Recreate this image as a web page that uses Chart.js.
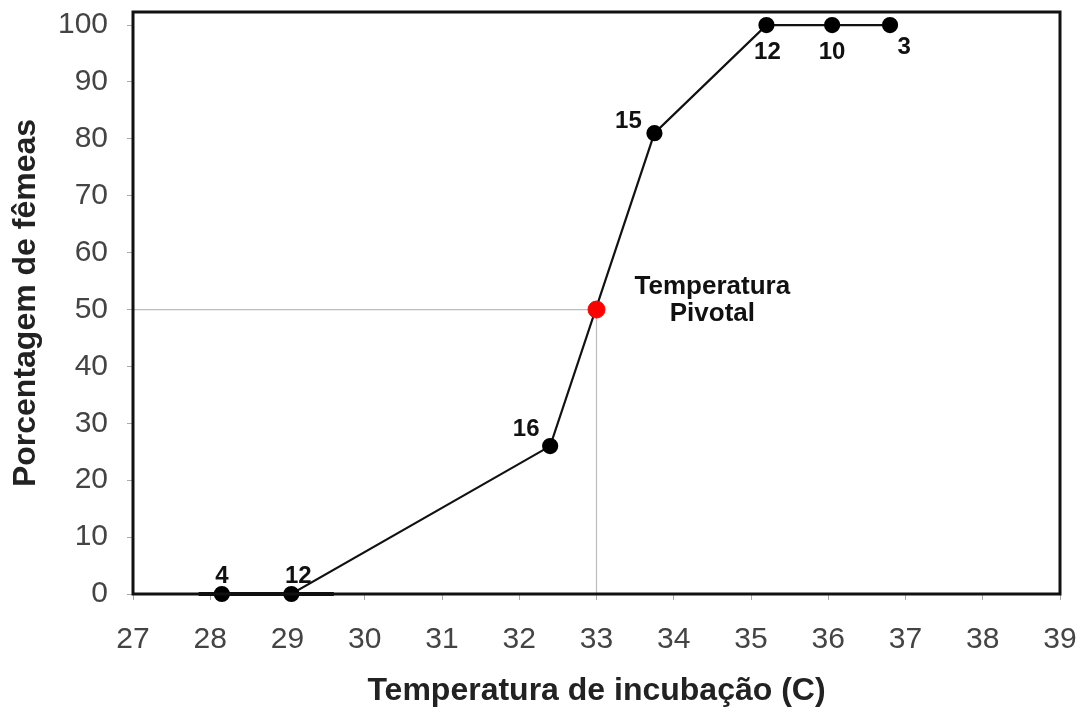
<!DOCTYPE html>
<html>
<head>
<meta charset="utf-8">
<script src="https://cdn.jsdelivr.net/npm/chart.js@4.4.1/dist/chart.umd.min.js"></script>
<style>
html,body{margin:0;padding:0;background:#fff;}
canvas{display:block;}
</style>
</head>
<body>
<canvas id="c" width="1083" height="715"></canvas>
<script>
// ---- data ----
const temps = [28.15, 29.05, 32.4, 33.75, 35.2, 36.05, 36.8];
const femalePct = [0, 0, 26, 81, 100, 100, 100];
const sampleCounts = ['4', '12', '16', '15', '12', '10', '3'];
const zeroBandTemps = [27.85, 29.6];
const zeroBandPct = [0, 0];
const pivotTemp = [33.0];
const pivotPct = [50];
const xTickValues = [27, 28, 29, 30, 31, 32, 33, 34, 35, 36, 37, 38, 39];
const yTickValues = [0, 10, 20, 30, 40, 50, 60, 70, 80, 90, 100];
const xTitle = 'Temperatura de incubação (C)';
const yTitle = 'Porcentagem de fêmeas';
const pivotText = ['Temperatura', 'Pivotal'];
const pivotTextAt = [34.5, 54];

// label offsets (px) relative to each point – style only
const labelOffsets = [[0,-18],[7,-18],[-24,-17],[-26,-12],[1,27],[0,27],[14,22]];

const mainData = temps.map((t,i)=>({x:t,y:femalePct[i]}));
const zeroData = zeroBandTemps.map((t,i)=>({x:t,y:zeroBandPct[i]}));
const pivotData = pivotTemp.map((t,i)=>({x:t,y:pivotPct[i]}));
const guideData = [{x:xTickValues[0],y:pivotPct[0]},{x:pivotTemp[0],y:pivotPct[0]},{x:pivotTemp[0],y:yTickValues[0]}];

const FONT = '"Liberation Sans", Arial, sans-serif';

const boxPlugin = {
  id:'box',
  afterDatasetsDraw(chart){
    const {ctx, chartArea:a} = chart;
    ctx.save();
    ctx.strokeStyle = '#111';
    ctx.lineWidth = 3;
    ctx.strokeRect(a.left, a.top, a.right-a.left, a.bottom-a.top);
    ctx.restore();
  },
  afterDraw(chart){
    const {ctx} = chart;
    const xs = chart.scales.x, ys = chart.scales.y;
    ctx.save();
    ctx.fillStyle = '#111';
    ctx.textAlign = 'center';
    ctx.textBaseline = 'middle';
    ctx.font = 'bold 24px ' + FONT;
    temps.forEach((t,i)=>{
      const px = xs.getPixelForValue(t) + labelOffsets[i][0];
      const py = ys.getPixelForValue(femalePct[i]) + labelOffsets[i][1];
      ctx.fillText(sampleCounts[i], px, py);
    });
    ctx.font = 'bold 26px ' + FONT;
    const cx = xs.getPixelForValue(pivotTextAt[0]);
    const cy = ys.getPixelForValue(pivotTextAt[1]);
    pivotText.forEach((s,i)=>ctx.fillText(s, cx, cy + i*27));
    ctx.restore();
  }
};

new Chart(document.getElementById('c'), {
  type:'scatter',
  data:{
    datasets:[
      {data:pivotData, backgroundColor:'#ff0000', borderColor:'#ff0000', pointRadius:8.5, showLine:false, clip:false, order:0},
      {data:mainData, borderColor:'#111', backgroundColor:'#111', borderWidth:2.2, pointRadius:7, pointBackgroundColor:'#000', pointBorderColor:'#000', showLine:true, clip:false, order:1},
      {data:zeroData, borderColor:'#111', borderWidth:4, pointRadius:0, showLine:true, clip:false, order:2},
      {data:guideData, borderColor:'#bdbdbd', borderWidth:1.2, pointRadius:0, showLine:true, clip:false, order:3}
    ]
  },
  options:{
    responsive:false,
    animation:false,
    events:[],
    layout:{padding:{top:12,right:23,left:0,bottom:0}},
    plugins:{legend:{display:false}, tooltip:{enabled:false}},
    scales:{
      x:{
        type:'linear', min:27, max:39,
        afterBuildTicks(s){ s.ticks = xTickValues.map(v=>({value:v})); },
        afterFit(s){ s.height = 121; s.paddingLeft = 0; s.paddingRight = 0; },
        grid:{drawOnChartArea:false, drawTicks:true, tickLength:6, color:'#aaa'},
        border:{display:false},
        ticks:{font:{family:FONT, size:30}, color:'#444', padding:22, maxRotation:0, autoSkip:false},
        title:{display:true, text:xTitle, font:{family:FONT, size:32, weight:'bold'}, color:'#222', padding:{top:0,bottom:5}}
      },
      y:{
        type:'linear', min:0, max:102.3,
        afterBuildTicks(s){ s.ticks = yTickValues.map(v=>({value:v})); },
        afterFit(s){ s.width = 133; s.paddingTop = 0; s.paddingBottom = 0; },
        grid:{drawOnChartArea:false, drawTicks:true, tickLength:6, color:'#aaa'},
        border:{display:false},
        ticks:{font:{family:FONT, size:30}, color:'#444', padding:19, autoSkip:false},
        title:{display:true, text:yTitle, font:{family:FONT, size:32, weight:'bold'}, color:'#222', padding:{top:7,bottom:0}}
      }
    }
  },
  plugins:[boxPlugin]
});
</script>
</body>
</html>
